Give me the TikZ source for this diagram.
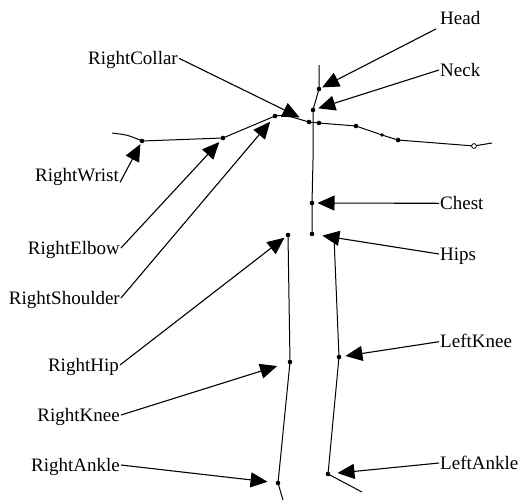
\documentclass[tikz,border=0pt]{standalone}
\usepackage{fontspec}
\setmainfont{Liberation Serif}
\usetikzlibrary{arrows.meta}
\begin{document}
\begin{tikzpicture}[x=1pt,y=-1pt,
  bone/.style={line width=1pt},
  joint/.style={circle,fill=black,inner sep=0pt,minimum size=4.6pt},
  openjoint/.style={circle,draw=black,fill=white,line width=0.8pt,inner sep=0pt,minimum size=4.8pt},
  lbl/.style={font=\fontsize{19}{21}\selectfont,inner sep=1pt,text height=12.5pt,text depth=0pt},
  pointer/.style={line width=1.1pt,-{Triangle[length=17pt,width=15pt]}}]
\useasboundingbox (0,0) rectangle (521,501);
% skeleton joints
\coordinate (spinetop) at (319,65);
\node[joint] (head) at (319,89) {};
\node[joint] (neck) at (313,110) {};
\coordinate (spinemid) at (313,160);
\node[joint] (chest) at (312,203) {};
\node[joint] (hips) at (312,234) {};
\node[joint] (rcollar) at (309,122) {};
\node[joint] (lcollar) at (319,123) {};
\node[joint] (rshoulder) at (275,116) {};
\coordinate (rsh2) at (285,115);
\node[joint] (relbow) at (223,138) {};
\node[joint] (rwrist) at (142,141) {};
\coordinate (rhand) at (112,133);
\node[joint] (lshoulder) at (356,126) {};
\node[joint,minimum size=3.6pt] (larm) at (382,135) {};
\node[joint] (lelbow) at (398,140) {};
\coordinate (lhand) at (492,143);
\node[joint] (rhip) at (288,235) {};
\node[joint] (rknee) at (290,362) {};
\node[joint] (rankle) at (278,483) {};
\coordinate (rtoe) at (283,500);
\coordinate (lhip) at (334,237);
\node[joint] (lknee) at (339,357) {};
\node[joint] (lankle) at (328,474) {};
\coordinate (ltoe) at (362,492);
% bones
\draw[bone] (spinetop) -- (head.center) -- (neck.center) -- (spinemid) -- (chest.center) -- (hips.center);
\draw[bone] (rhand) .. controls (128,135) .. (rwrist.center) -- (relbow.center) -- (rshoulder.center) -- (rsh2) -- (rcollar.center) -- (lcollar.center) -- (lshoulder.center) -- (larm.center) -- (lelbow.center) -- (474,146) -- (lhand);
\node[openjoint] (lwrist) at (474,146) {};
\draw[bone] (rhip.center) -- (rknee.center) -- (rankle.center) -- (rtoe);
\draw[bone] (lhip) -- (lknee.center) -- (lankle.center) -- (ltoe);
% labels
\node[lbl,anchor=west] (tHead) at (439,18.5) {Head};
\node[lbl,anchor=west] (tNeck) at (439,70) {Neck};
\node[lbl,anchor=west] (tChest) at (439,203.3) {Chest};
\node[lbl,anchor=west] (tHips) at (439,254) {Hips};
\node[lbl,anchor=west] (tLKnee) at (439,341.7) {LeftKnee};
\node[lbl,anchor=west] (tLAnkle) at (439,463) {LeftAnkle};
\node[lbl,anchor=east] (tRCollar) at (179,58.3) {RightCollar};
\node[lbl,anchor=east] (tRWrist) at (120,175) {RightWrist};
\node[lbl,anchor=east] (tRElbow) at (121,248) {RightElbow};
\node[lbl,anchor=east] (tRShoulder) at (121,298) {RightShoulder};
\node[lbl,anchor=east] (tRHip) at (120,365) {RightHip};
\node[lbl,anchor=east] (tRKnee) at (121,415) {RightKnee};
\node[lbl,anchor=east] (tRAnkle) at (121,465) {RightAnkle};
% pointers
\draw[pointer,shorten >=1pt] ([xshift=-3pt,yshift=-3pt]tHead.south west) -- (head);
\draw[pointer,shorten >=3pt] (tNeck.west) -- (neck);
\draw[pointer,shorten >=3pt] (tChest.west) -- (chest);
\draw[pointer,shorten >=8pt] (tHips.west) -- (hips);
\draw[pointer,shorten >=4pt] (tLKnee.west) -- (lknee);
\draw[pointer,shorten >=7pt] (tLAnkle.west) -- (lankle);
\draw[pointer,shorten >=8pt] (tRCollar.east) -- (rcollar);
\draw[pointer,shorten >=1pt] (tRWrist.south east) -- (rwrist);
\draw[pointer,shorten >=3pt] (tRElbow.east) -- (relbow);
\draw[pointer,shorten >=5pt] (tRShoulder.east) -- (rshoulder);
\draw[pointer,shorten >=2pt] (tRHip.east) -- (rhip);
\draw[pointer,shorten >=11pt] (tRKnee.east) -- (rknee);
\draw[pointer,shorten >=8pt] (tRAnkle.east) -- (rankle);
\end{tikzpicture}
\end{document}
